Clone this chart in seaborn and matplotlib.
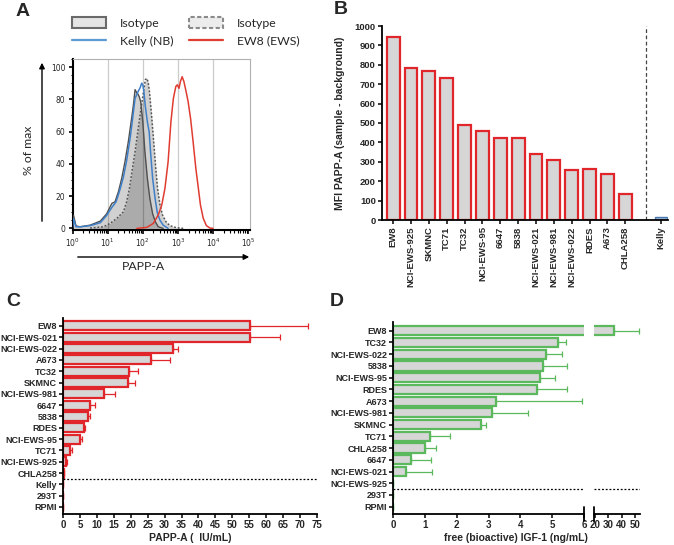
import numpy as np
import pandas as pd
import matplotlib
matplotlib.use("Agg")
import matplotlib.pyplot as plt
from matplotlib.patches import Patch
from matplotlib.lines import Line2D
from matplotlib.ticker import MultipleLocator, FixedLocator
import seaborn as sns

sns.set_theme(style="white")
plt.rcParams["font.family"] = ["Liberation Sans", "DejaVu Sans"]

# ---------------- Panel A data (log10 fluorescence, % of max) ----------------
iso_log = [0.0, 0.03, 0.1, 0.22, 0.50, 0.79, 0.97, 1.12, 1.21, 1.31, 1.40, 1.49, 1.59, 1.68, 1.73,
           1.78, 1.83, 1.87, 1.90, 1.94, 2.00, 2.06, 2.13, 2.20, 2.28, 2.36, 2.44, 2.58]
iso_pct = [0, 8, 1.5, 1, 2, 4.5, 9, 15.5, 16.5, 23, 31, 41, 54, 68, 76,
           86, 84, 83, 81.6, 78.5, 66, 47.5, 31, 18.6, 9, 4, 1, 0]
kelly_log = [0.0, 0.03, 0.1, 0.22, 0.50, 0.79, 0.97, 1.12, 1.24, 1.35, 1.45, 1.54, 1.64, 1.71, 1.78,
             1.83, 1.87, 1.92, 1.97, 2.00, 2.03, 2.07, 2.13, 2.18, 2.22, 2.28, 2.35, 2.41, 2.49, 2.58, 2.72]
kelly_pct = [0, 6, 1, 1, 1.7, 3.5, 8, 13, 16.5, 24, 32, 42, 56, 68, 80.6,
             83, 85, 87, 90, 89, 85, 76, 66, 60, 47.5, 31, 18.6, 10, 5, 2, 0]
iso2_log = [0.50, 0.88, 1.07, 1.26, 1.45, 1.54, 1.62, 1.69, 1.78, 1.87, 1.95, 2.02, 2.07, 2.11, 2.15,
            2.19, 2.25, 2.31, 2.37, 2.42, 2.49, 2.56, 2.66, 2.77, 2.96, 3.15]
iso2_pct = [0.2, 1, 3.1, 6.2, 10.3, 16.5, 24.8, 35, 47.5, 62, 74.4, 84.7, 92, 93, 91,
            84.7, 70, 53.7, 37, 24.8, 14.5, 8.3, 4.1, 1.7, 0.4, 0]
ew8_log = [1.83, 2.11, 2.30, 2.44, 2.54, 2.63, 2.72, 2.80, 2.87, 2.94, 2.98, 3.03, 3.07, 3.12, 3.17,
           3.23, 3.29, 3.36, 3.43, 3.51, 3.58, 3.64, 3.72, 3.81, 3.91, 4.0]
ew8_pct = [0, 0.6, 3.1, 8.3, 14.5, 24.8, 41.3, 66, 80.6, 88, 89, 86.8, 91, 94, 91,
           85, 78.5, 68, 54, 37, 25, 14.5, 6.2, 1.7, 0.2, 0]
a_decades = [0, 1, 2, 3, 4, 5]
a_legend = ["Isotype", "Kelly (NB)", "Isotype", "EW8 (EWS)"]

# ---------------- Panel B data ----------------
b_cells = ["EW8", "NCI-EWS-925", "SKMNC", "TC71", "TC32", "NCI-EWS-95", "6647", "5838",
           "NCI-EWS-021", "NCI-EWS-981", "NCI-EWS-022", "RDES", "A673", "CHLA258"]
b_mfi = [945, 782, 767, 732, 492, 458, 425, 425, 338, 307, 257, 264, 235, 134]
b_ctrl = ["Kelly"]
b_ctrl_mfi = [14]

# ---------------- Panel C data ----------------
c_cells = ["EW8", "NCI-EWS-021", "NCI-EWS-022", "A673", "TC32", "SKMNC", "NCI-EWS-981", "6647",
           "5838", "RDES", "NCI-EWS-95", "TC71", "NCI-EWS-925", "CHLA258", "Kelly", "293T", "RPMI"]
c_papp = [55.3, 55.1, 32.6, 26.0, 19.5, 19.2, 12.0, 8.1, 7.4, 6.1, 4.9, 2.2, 0.9, 0.2, 0, 0, 0]
c_sd = [17.0, 9.1, 1.5, 5.7, 2.7, 2.2, 3.4, 1.3, 0.7, 0.3, 0.8, 0.5, 0.2, 0, 0, 0, 0]

# ---------------- Panel D data ----------------
d_cells = ["EW8", "TC32", "NCI-EWS-022", "5838", "NCI-EWS-95", "RDES", "A673", "NCI-EWS-981",
           "SKMNC", "TC71", "CHLA258", "6647", "NCI-EWS-021", "NCI-EWS-925", "293T", "RPMI"]
d_igf = [34.4, 5.17, 4.81, 4.72, 4.62, 4.53, 3.25, 3.12, 2.78, 1.15, 1.0, 0.56, 0.42, 0, 0, 0]
d_sd = [18.6, 0.27, 0.49, 0.76, 0.48, 0.95, 2.69, 1.11, 0.14, 0.63, 0.34, 0.63, 0.79, 0, 0, 0]

RED = "#e0262b"
GREEN = "#5cb85c"
FILL = "#d6d6d6"
W, H = 674, 545


def rect(l, t, r, b):
    return [l / W, 1 - b / H, (r - l) / W, (b - t) / H]


fig = plt.figure(figsize=(6.74, 5.45), dpi=100)
fig.patch.set_facecolor("white")

# ======================= Panel A =======================
axA = fig.add_axes(rect(72.5, 59, 250, 230))
for d in a_decades[1:-1]:
    axA.axvline(d, color="#cccccc", lw=0.9, zorder=0)
axA.fill_between(iso_log, iso_pct, color="black", alpha=0.18, lw=0, zorder=1)
axA.fill_between(iso2_log, iso2_pct, color="black", alpha=0.18, lw=0, zorder=1)
sns.lineplot(x=iso2_log, y=iso2_pct, sort=False, color="#555555", lw=1.1, ls=(0, (1.2, 1.2)), ax=axA, zorder=3)
sns.lineplot(x=iso_log, y=iso_pct, sort=False, color="#505050", lw=1.0, ax=axA, zorder=3)
sns.lineplot(x=kelly_log, y=kelly_pct, sort=False, color="#3f7fc8", lw=1.1, ax=axA, zorder=4)
sns.lineplot(x=ew8_log, y=ew8_pct, sort=False, color="#e03c31", lw=1.1, ax=axA, zorder=4)
axA.set_xlim(0, 5.05)
axA.set_ylim(-1, 105)
axA.set_xticks(a_decades)
axA.set_xticklabels([f"$10^{{{d}}}$" for d in a_decades], fontsize=5.5, family="DejaVu Sans")
minors = [d + np.log10(k) for d in a_decades[:-1] for k in range(2, 10)]
axA.xaxis.set_minor_locator(FixedLocator(minors))
axA.set_yticks([0, 20, 40, 60, 80, 100])
axA.set_yticklabels(["0", "20", "40", "60", "80", "100"], fontsize=5.5, family="DejaVu Sans")
axA.yaxis.set_minor_locator(MultipleLocator(5))
axA.tick_params(axis="both", which="major", direction="out", length=3, width=1.2, color="black", pad=2)
axA.tick_params(axis="both", which="minor", direction="out", length=1.8, width=0.8, color="black")
axA.tick_params(axis="both", bottom=True, left=True, which="both")
for s in ["top", "right"]:
    axA.spines[s].set_color("#b0b0b0")
    axA.spines[s].set_linewidth(0.8)
for s in ["left", "bottom"]:
    axA.spines[s].set_color("black")
    axA.spines[s].set_linewidth(1.5)
axA.set_xlabel("")
axA.set_ylabel("")

handles = [Patch(facecolor="#e4e4e4", edgecolor="#6a6a6a", lw=1.5),
           Line2D([], [], color="#5b9bd5", lw=1.6),
           Patch(facecolor="#ececec", edgecolor="#8a8a8a", lw=1.5, ls=(0, (2, 1.2))),
           Line2D([], [], color="#e03c31", lw=1.6)]
fig.legend(handles, a_legend, ncol=2, loc="upper left", bbox_to_anchor=(66 / W, 1 - 11 / H),
           frameon=False, prop={"family": "Lato", "size": 8.8}, handlelength=2.8, handleheight=1.0,
           columnspacing=1.3, labelspacing=0.5, handletextpad=1.1, borderpad=0)

# arrows and labels around A
fig.add_artist(matplotlib.patches.FancyArrowPatch((42 / W, 1 - 224 / H), (42 / W, 1 - 60 / H),
               transform=fig.transFigure, arrowstyle="-|>", mutation_scale=8, lw=1.0, color="black"))
fig.add_artist(matplotlib.patches.FancyArrowPatch((75 / W, 1 - 257 / H), (252 / W, 1 - 257 / H),
               transform=fig.transFigure, arrowstyle="-|>", mutation_scale=8, lw=1.0, color="black"))
fig.text(28 / W, 1 - 150 / H, "% of max", rotation=90, ha="center", va="center", fontsize=8.8, family="Lato")
fig.text(143 / W, 1 - 266 / H, "PAPP-A", ha="center", va="center", fontsize=8.8, family="Lato")

# ======================= Panel B =======================
axB = fig.add_axes(rect(382, 26, 668, 220))
order_b = b_cells + [" ", "Kelly"]
dfB = pd.DataFrame({"cell": b_cells, "mfi": b_mfi})
dfK = pd.DataFrame({"cell": b_ctrl, "mfi": b_ctrl_mfi})
sns.barplot(data=dfB, x="cell", y="mfi", order=order_b, color=FILL, saturation=1,
            edgecolor=RED, linewidth=1.6, width=0.72, ax=axB)
sns.barplot(data=dfK, x="cell", y="mfi", order=order_b, color="#9db6d6", saturation=1,
            edgecolor="#4a78b0", linewidth=1.0, width=0.72, ax=axB)
axB.set_xlim(-0.62, 15.39)
axB.set_ylim(0, 1000)
axB.set_yticks(range(0, 1001, 100))
axB.set_yticklabels([str(v) for v in range(0, 1001, 100)], fontsize=6.8, fontweight="bold")
xpos_b = list(range(len(b_cells))) + [len(b_cells) + 1]
axB.set_xticks(xpos_b)
axB.set_xticklabels(b_cells + b_ctrl, rotation=90, fontsize=6.8, fontweight="bold")
axB.axvline(len(b_cells) + 0.16, color="#444444", lw=0.9, ls=(0, (3, 2)))
axB.set_xlabel("")
axB.set_ylabel("MFI PAPP-A (sample - background)", fontsize=7.5, fontweight="bold")
axB.yaxis.set_label_coords(-0.128, 0.5)
for s in ["top", "right"]:
    axB.spines[s].set_visible(False)
for s in ["left", "bottom"]:
    axB.spines[s].set_color("black")
    axB.spines[s].set_linewidth(1.3)
axB.tick_params(axis="both", direction="out", length=3, width=1.1, color="black", pad=1.5,
                bottom=True, left=True)

# ======================= Panel C =======================
axC = fig.add_axes(rect(63, 318, 317, 514))
sns.barplot(x=c_papp, y=c_cells, order=c_cells, orient="h", color=FILL, saturation=1,
            edgecolor=RED, linewidth=1.6, width=0.8, ax=axC)
ypos_c = np.arange(len(c_cells))
axC.errorbar(c_papp, ypos_c, xerr=[np.zeros(len(c_sd)), c_sd], fmt="none", ecolor=RED,
             elinewidth=0.9, capsize=2.2, capthick=0.9, zorder=0)
axC.axhline(13.5, color="black", lw=0.9, ls=(0, (1.5, 1.5)))
axC.set_xlim(0, 75)
axC.set_ylim(len(c_cells) - 0.38, -0.7)
axC.set_xticks(range(0, 76, 5))
axC.set_xticklabels([str(v) for v in range(0, 76, 5)], fontsize=7, fontweight="bold")
axC.set_yticks(ypos_c)
axC.set_yticklabels(c_cells, fontsize=6.5, fontweight="bold")
axC.set_xlabel("")
axC.set_ylabel("")
for s in ["top", "right"]:
    axC.spines[s].set_visible(False)
for s in ["left", "bottom"]:
    axC.spines[s].set_color("black")
    axC.spines[s].set_linewidth(1.3)
axC.tick_params(axis="both", direction="out", length=3, width=1.1, color="black", pad=1.2,
                bottom=True, left=True)
fig.text(190 / W, 1 - 538 / H, "PAPP-A (  IU/mL)", ha="center", va="center", fontsize=7.5, fontweight="bold")

# ======================= Panel D (broken axis) =======================
axD1 = fig.add_axes(rect(393, 321.7, 584, 514))
axD2 = fig.add_axes(rect(594, 321.7, 640, 514), sharey=axD1)
ypos_d = np.arange(len(d_cells))
for ax in (axD1, axD2):
    sns.barplot(x=d_igf, y=d_cells, order=d_cells, orient="h", color=FILL, saturation=1,
                edgecolor=GREEN, linewidth=1.6, width=0.78, ax=ax)
    ax.errorbar(d_igf, ypos_d, xerr=[np.zeros(len(d_sd)), d_sd], fmt="none", ecolor=GREEN,
                elinewidth=0.9, capsize=2.2, capthick=0.9, zorder=0)
    ax.axhline(13.5, color="black", lw=0.9, ls=(0, (1.5, 1.5)))
    ax.set_xlabel("")
    ax.set_ylabel("")
    for s in ["top", "right"]:
        ax.spines[s].set_visible(False)
    ax.spines["bottom"].set_color("black")
    ax.spines["bottom"].set_linewidth(1.3)
    ax.tick_params(axis="x", direction="out", length=3, width=1.1, color="black", pad=1.5, bottom=True)
axD1.set_xlim(0, 6)
axD1.set_ylim(len(d_cells) - 0.38, -0.77)
axD1.set_xticks(range(0, 7))
axD1.set_xticklabels([str(v) for v in range(0, 7)], fontsize=7, fontweight="bold")
axD1.set_yticks(ypos_d)
axD1.set_yticklabels(d_cells, fontsize=6.5, fontweight="bold")
axD1.spines["left"].set_color("black")
axD1.spines["left"].set_linewidth(1.3)
axD1.tick_params(axis="y", direction="out", length=3, width=1.1, color="black", pad=1.2, left=True)
axD2.set_xlim(19.25, 53.75)
axD2.set_xticks([20, 30, 40, 50])
axD2.set_xticklabels(["20", "30", "40", "50"], fontsize=7, fontweight="bold")
axD2.spines["left"].set_visible(False)
axD2.tick_params(axis="y", left=False, labelleft=False)
for ax, xb in ((axD1, 1.0), (axD2, 0.0)):
    ax.plot([xb, xb], [-0.035, 0.035], transform=ax.transAxes, color="black", lw=1.3, clip_on=False)
fig.text(516 / W, 1 - 538 / H, "free (bioactive) IGF-1 (ng/mL)", ha="center", va="center",
         fontsize=7.5, fontweight="bold")

# ======================= Panel letters =======================
for lab, x, y in (("A", 23, 11), ("B", 341, 10), ("C", 13, 302), ("D", 337, 302)):
    fig.text(x / W, 1 - y / H, lab, ha="center", va="center", fontsize=14, fontweight="bold")

fig.savefig("out.png", dpi=100, facecolor="white")
